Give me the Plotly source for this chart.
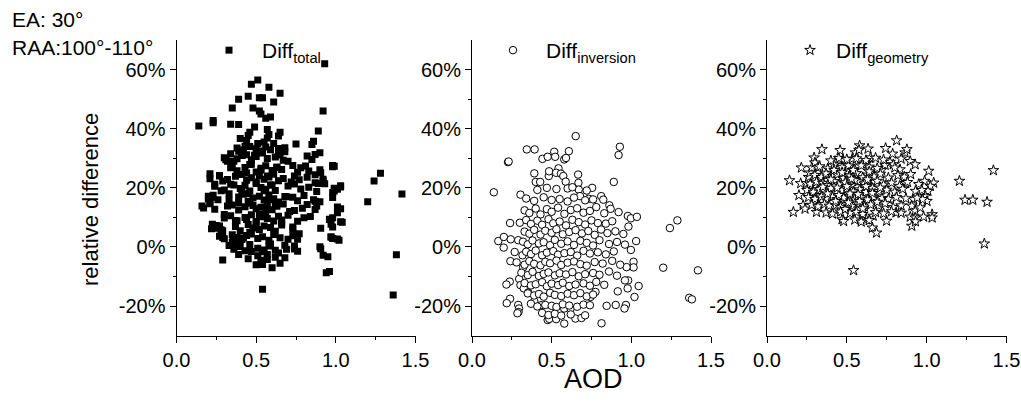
import plotly.graph_objects as go

# ---------------- data (AOD, relative difference in %) ----------------
total_points = [
    (0.93, 62), (0.92, 46), (0.47, 55), (0.51, 56.5), (0.58, 54), (0.65, 52), (0.45, 51), (0.39, 50),
    (0.61, 49), (0.35, 47), (0.48, 47), (0.52, 50.5), (0.54, 50.5), (0.52, 46), (0.53, 45), (0.56, 43.5),
    (0.59, 44), (0.49, 40.6), (0.39, 41.4), (0.34, 41.5), (0.23, 42.8), (0.23, 42), (0.14, 40.9), (0.40, 36.7),
    (0.45, 37.7), (0.46, 38.8), (0.57, 39.7), (0.58, 38), (0.57, 36.9), (0.65, 38.8), (0.64, 37.5), (0.75, 34.8),
    (0.89, 39.2), (0.86, 35.8), (0.85, 34.7), (0.90, 31.9), (0.68, 33.6), (0.64, 31.6), (0.43, 34.1),
    (0.98, 27.6), (0.99, 27.3), (0.905, 25.1), (0.92, 22.9), (0.89, 21.5), (0.87, 21.7), (1.03, 20.3), (1.01, 19.5),
    (0.98, 18.4), (0.99, 18.9), (0.87, 15.5), (0.88, 13.9), (1.03, 12.9), (1.01, 11.6), (0.98, 9.9), (0.96, 9.3),
    (0.97, 7.7), (1.04, 8.4), (0.905, 6.3), (0.97, 3.4), (0.98, 2.9), (1.02, 2.3), (0.905, -0.6), (0.92, -2.8),
    (0.95, -3.3), (0.94, -8.7), (0.96, -8.3), (1.2, 15.3), (1.24, 22.3), (1.28, 24.9), (1.415, 17.9), (1.38, -2.6),
    (1.36, -16.2),
    (0.54, -14.3), (0.29, -4.4), (0.39, -2.5), (0.54, -5.9), (0.6, -7), (0.65, -5.5), (0.57, -4.2), (0.68, -3.6),
    (0.69, -0.8), (0.74, 0.3), (0.76, 2.6), (0.73, 6.8),
    (0.16, 13.9), (0.21, 15), (0.2, 17.2), (0.22, 16.8), (0.21, 24.8), (0.24, 21.2), (0.27, 24), (0.29, 22.3),
    (0.225, 7.7), (0.24, 6.3), (0.27, 7.1), (0.29, 5.5), (0.29, 3.2), (0.35, 1.5), (0.38, 1.0), (0.355, 2.8),
    (0.32, 29), (0.31, 29.5), (0.34, 26.8), (0.36, 29), (0.39, 32.4), (0.41, 31),
    (0.38, 33.5), (0.42, 32.8), (0.46, 34), (0.5, 33.2), (0.53, 32.5), (0.56, 33.8), (0.59, 32.9), (0.64, 33.3),
    (0.68, 32.2),
    (0.3, 30.2), (0.34, 31.5), (0.38, 29.8), (0.41, 30.9), (0.44, 31.2), (0.47, 29.5), (0.5, 30.6), (0.54, 31.8),
    (0.57, 29.9), (0.62, 30.4), (0.65, 31.1), (0.67, 29.3), (0.82, 30.8), (0.85, 29.6), (0.87, 31.3),
    (0.35, 27.2), (0.38, 25.8), (0.43, 26.9), (0.46, 27.9), (0.5, 25.4), (0.53, 26.6), (0.56, 27.5), (0.6, 25.9),
    (0.63, 27), (0.66, 26.2), (0.73, 27.6), (0.76, 25.3), (0.78, 26.8), (0.81, 27.4), (0.83, 25.7), (0.9, 26.1),
    (0.98, 27.1),
    (0.21, 23.1), (0.27, 24.2), (0.32, 22.8), (0.37, 23.9), (0.41, 24.5), (0.44, 22.6), (0.47, 23.4), (0.52, 24.1),
    (0.55, 22.9), (0.58, 23.7), (0.61, 24.6), (0.64, 22.4), (0.67, 23.2), (0.74, 24), (0.77, 22.7), (0.82, 23.6),
    (0.87, 24.4), (0.92, 22.2),
    (0.24, 20.5), (0.3, 19.3), (0.34, 21.2), (0.4, 19.8), (0.43, 20.9), (0.46, 18.9), (0.5, 21.5), (0.53, 20.1),
    (0.56, 19.5), (0.59, 21), (0.62, 19.1), (0.7, 20.6), (0.74, 21.3), (0.78, 19.6), (0.83, 20.2), (0.88, 18.8),
    (0.93, 21.4), (0.99, 19.9), (1.03, 20.7),
    (0.2, 16.2), (0.23, 17.5), (0.33, 15.8), (0.39, 16.9), (0.42, 17.8), (0.45, 15.4), (0.48, 16.6), (0.52, 17.2),
    (0.55, 15.9), (0.58, 17.6), (0.61, 16.3), (0.64, 15.2), (0.68, 17.1), (0.73, 16.8), (0.76, 15.6), (0.8, 17.4),
    (0.86, 16), (0.9, 15.3), (0.98, 16.7),
    (0.17, 13.2), (0.21, 14.6), (0.24, 12.8), (0.32, 13.9), (0.35, 14.2), (0.39, 12.5), (0.43, 13.6), (0.46, 14.8),
    (0.5, 12.9), (0.53, 13.4), (0.57, 14.1), (0.6, 12.6), (0.63, 13.8), (0.67, 14.5), (0.74, 12.3), (0.79, 13.1),
    (0.82, 14.4), (0.87, 12.7), (1.01, 13.5),
    (0.3, 9.8), (0.34, 10.6), (0.38, 8.9), (0.44, 9.3), (0.47, 10.9), (0.5, 8.6), (0.54, 10.2), (0.57, 9.6),
    (0.61, 8.8), (0.64, 10.4), (0.66, 9.1), (0.7, 10.7), (0.76, 8.7), (0.8, 9.9), (0.84, 10.3), (0.96, 9.4),
    (1.03, 8.5),
    (0.22, 6.2), (0.25, 7.3), (0.28, 5.8), (0.37, 6.9), (0.4, 5.5), (0.45, 7.6), (0.48, 6.4), (0.52, 5.9),
    (0.55, 7.1), (0.59, 6.6), (0.62, 5.3), (0.66, 7.4), (0.73, 6), (0.98, 6.8),
    (0.27, 3.6), (0.3, 2.8), (0.35, 4.1), (0.38, 3.2), (0.41, 2.5), (0.44, 3.9), (0.47, 4.4), (0.51, 2.9),
    (0.54, 3.5), (0.58, 2.3), (0.61, 4.2), (0.65, 3.1), (0.7, 2.6), (0.73, 3.8), (0.77, 4.5), (0.97, 3.4),
    (1.01, 2.7),
    (0.33, 0.5), (0.36, -0.8), (0.4, 0.2), (0.43, -1.3), (0.46, 0.8), (0.51, -0.4), (0.54, -1.6), (0.58, 0.3),
    (0.62, -1.1), (0.68, 0.6), (0.74, -0.7), (0.76, -1.4), (0.9, 0.1),
    (0.45, 18), (0.5, 22), (0.55, 19), (0.48, 14), (0.52, 11), (0.58, 16), (0.44, 25), (0.6, 21), (0.47, 28),
    (0.53, 26), (0.56, 12), (0.5, 8), (0.46, 5), (0.62, 14), (0.41, 19), (0.43, 10), (0.57, 24), (0.63, 27),
    (0.49, 31), (0.55, 35.5), (0.51, 35), (0.61, 35), (0.44, 36), (0.7, 29), (0.72, 22), (0.69, 17), (0.71, 12),
    (0.66, 8), (0.39, 15), (0.36, 21), (0.33, 18), (0.3, 11), (0.28, 19), (0.26, 16), (0.37, 9), (0.42, 3),
    (0.59, 1), (0.64, -2), (0.47, -1.5), (0.51, -3), (0.55, -1), (0.57, -2.5), (0.62, -3.5), (0.45, -4),
    (0.5, -6), (0.53, -4.5),
]

inversion_points = [
    (0.137, 18.5), (0.226, 28.7), (0.23, 28.9), (0.304, 17.7), (0.239, 8.1), (0.344, 33), (0.393, 33),
    (0.391, 24.9), (0.40, 22), (0.428, 22), (0.442, 29.8), (0.475, 30.5), (0.516, 32.2), (0.522, 30.5),
    (0.579, 29.6), (0.59, 30.1), (0.608, 32.4), (0.651, 37.5), (0.543, 26.6), (0.482, 24), (0.484, 25.6),
    (0.528, 25.1), (0.558, 24.8), (0.573, 24), (0.588, 22.1), (0.666, 24.5), (0.668, 21.7), (0.67, 19.4),
    (0.754, 20), (0.678, 17.2), (0.733, 16.3), (0.811, 17.2), (0.824, 16), (0.862, 14.1), (0.89, 22),
    (0.928, 33.9), (0.92, 31.1), (0.978, 10.5), (0.997, 9.7), (1.035, 10.2), (0.982, 6.9), (1.03, 2),
    (0.997, -1), (1.014, -5), (1.014, -6.9), (0.97, -6.8), (1.046, -13.2), (1.02, -16.9), (0.915, -15),
    (0.98, -11.3), (0.96, -11.3), (0.977, -14), (0.902, -19.6), (0.966, -19.6), (0.957, -20.8), (0.845, -19.9),
    (0.813, -25.8), (1.242, 6.4), (1.289, 9), (1.2, -7), (1.363, -17.2), (1.38, -17.7), (1.418, -7.9),
    (0.165, 2), (0.2, 3.4), (0.199, -0.2), (0.243, 2.6), (0.29, 2.3), (0.241, -4.8), (0.317, -2.8),
    (0.321, -6.9), (0.268, -1.7), (0.237, -11.7), (0.216, -12.7), (0.296, -10.8), (0.304, -12.9),
    (0.239, -17.5), (0.218, -19), (0.29, -19.6), (0.295, -20.8), (0.292, -22), (0.285, -22.4), (0.325, -14),
    (0.353, -15.4), (0.391, -18.4), (0.433, -19.7), (0.475, -24.7), (0.485, -24.3), (0.528, -24.4),
    (0.579, -25.9), (0.554, -21.6), (0.579, -20.8), (0.619, -20.8), (0.649, -24.2), (0.687, -24), (0.71, -23.1),
    (0.744, -16.9), (0.775, -15.2),
    (0.33, 12.4), (0.36, 11.5), (0.4, 13), (0.43, 11), (0.47, 12.8), (0.5, 11.9), (0.54, 13.3), (0.58, 11.2),
    (0.62, 12.5), (0.66, 13.1), (0.7, 11.6), (0.74, 12.2), (0.78, 13.5), (0.83, 11.4), (0.87, 12.9), (0.92, 11.8),
    (0.3, 8.2), (0.34, 9.1), (0.37, 7.8), (0.41, 8.9), (0.44, 7.5), (0.48, 9.4), (0.51, 8), (0.55, 8.6),
    (0.59, 7.3), (0.63, 9.2), (0.67, 8.4), (0.71, 7.6), (0.75, 9), (0.79, 8.1), (0.84, 7.9), (0.88, 8.7),
    (0.33, 5.2), (0.36, 4.5), (0.39, 5.8), (0.43, 4.2), (0.46, 5.5), (0.5, 4.8), (0.53, 6), (0.57, 4.3),
    (0.61, 5.1), (0.65, 5.7), (0.69, 4.6), (0.73, 5.4), (0.77, 4.1), (0.81, 5.9), (0.85, 4.7), (0.9, 5.3),
    (0.95, 4.4),
    (0.32, 1.8), (0.35, 0.9), (0.38, 2.2), (0.42, 1.2), (0.45, 1.6), (0.49, 0.6), (0.52, 2.4), (0.56, 1.1),
    (0.6, 1.9), (0.64, 0.7), (0.68, 2.1), (0.72, 1.4), (0.76, 0.5), (0.8, 2.3), (0.86, 1), (0.91, 1.7),
    (0.96, 0.8),
    (0.34, -1.6), (0.37, -2.4), (0.4, -1.2), (0.44, -2.8), (0.47, -1.9), (0.51, -1.4), (0.54, -2.6),
    (0.58, -2.1), (0.62, -1.7), (0.66, -2.9), (0.7, -1.3), (0.74, -2.2), (0.79, -1.8), (0.84, -2.5), (0.89, -1.5),
    (0.28, -5.2), (0.33, -6), (0.36, -4.8), (0.39, -5.7), (0.43, -6.2), (0.46, -5), (0.49, -5.5), (0.53, -4.6),
    (0.56, -6.1), (0.6, -5.3), (0.64, -4.9), (0.68, -5.8), (0.72, -6.3), (0.77, -5.1), (0.82, -5.6),
    (0.88, -4.7), (0.93, -6),
    (0.31, -8.7), (0.35, -9.5), (0.38, -8.4), (0.42, -9.8), (0.45, -9.1), (0.48, -8.6), (0.52, -9.6),
    (0.55, -8.9), (0.59, -9.3), (0.63, -8.5), (0.67, -9.9), (0.71, -9.2), (0.76, -8.8), (0.8, -9.4),
    (0.86, -8.3), (0.91, -9.7),
    (0.33, -12.2), (0.37, -13), (0.4, -12.6), (0.44, -11.9), (0.47, -13.3), (0.5, -12.4), (0.54, -12.9),
    (0.57, -12.1), (0.61, -13.2), (0.65, -12.7), (0.7, -12.3), (0.74, -13.1), (0.78, -11.8), (0.83, -12.8),
    (0.35, -15.7), (0.39, -16.4), (0.42, -15.9), (0.45, -16.8), (0.49, -15.5), (0.52, -16.2), (0.56, -16.6),
    (0.6, -15.8), (0.64, -16.3), (0.68, -15.6), (0.72, -16.7), (0.76, -16.1),
    (0.37, -19.2), (0.41, -20.1), (0.46, -19.6), (0.5, -19.9), (0.53, -20.3), (0.57, -19.4), (0.61, -19.8),
    (0.66, -20.2), (0.7, -19.5), (0.74, -19.7),
    (0.44, -22.3), (0.48, -23), (0.52, -22.6), (0.56, -23.2), (0.62, -22.8),
    (0.34, 16.4), (0.39, 15.6), (0.45, 16.8), (0.5, 15.9), (0.55, 16.2), (0.6, 15.4), (0.64, 16.7), (0.71, 15.8),
    (0.76, 16.1),
    (0.41, 19.3), (0.47, 20), (0.53, 19.6), (0.6, 19.8), (0.63, 20.2), (0.72, 19.1),
]

geometry_points = [
    (0.141, 22.5), (0.165, 11.8), (0.2, 17.5), (0.215, 26.8), (0.211, 21.5), (0.226, 14.1), (0.238, 12.9),
    (0.247, 21.5), (0.26, 23.6), (0.268, 25.1), (0.281, 26.8), (0.295, 30.2), (0.3, 28.5), (0.319, 26.8),
    (0.344, 33), (0.306, 17.5), (0.31, 11.8), (0.3, 15), (0.331, 21.7), (0.38, 24.5), (0.432, 12.2),
    (0.427, 29), (0.458, 32.7), (0.475, 29.6), (0.47, 9.3), (0.496, 25.7), (0.542, -7.9), (0.534, 29.8),
    (0.555, 31.9), (0.58, 34.3), (0.576, 32.8), (0.633, 33.2), (0.648, 30.2), (0.622, 28.3), (0.622, 9.3),
    (0.66, 6.5), (0.686, 4.8), (0.717, 26), (0.743, 33.4), (0.77, 28.7), (0.787, 31.5), (0.812, 36),
    (0.791, 27.9), (0.833, 26.2), (0.865, 31.9), (0.876, 33), (0.897, 29), (0.928, 27.9), (1.013, 25.7),
    (0.987, 22.3), (1.044, 21.7), (1.023, 20.6), (1.008, 18.9), (0.992, 17.2), (1.002, 15.5), (0.975, 16.1),
    (0.918, 16.1), (0.907, 13.9), (0.928, 12.2), (0.96, 13.3), (0.897, 10.2), (0.928, 9.9), (0.907, 7.1),
    (0.93, 8.6), (0.981, 10.2), (1.034, 11), (1.034, 9.9), (0.808, 11.6), (0.749, 8.8), (0.665, 10.5),
    (1.205, 22.3), (1.24, 15.9), (1.289, 15.9), (1.378, 15.2), (1.361, 1.1), (1.418, 25.9), (0.869, 21.5),
    (0.33, 27.2), (0.38, 26.5), (0.42, 27.8), (0.47, 26.9), (0.51, 27.5), (0.55, 26.2), (0.6, 28), (0.64, 27.1),
    (0.69, 26.6), (0.74, 27.7), (0.8, 26.8),
    (0.3, 24.3), (0.34, 23.6), (0.37, 24.8), (0.41, 23.9), (0.44, 24.5), (0.48, 23.3), (0.52, 24.1), (0.56, 24.9),
    (0.6, 23.5), (0.63, 24.4), (0.67, 23.8), (0.71, 24.7), (0.76, 23.4), (0.82, 24.2), (0.86, 23.7), (0.9, 24.6),
    (0.27, 21.3), (0.31, 22), (0.35, 21.6), (0.38, 20.9), (0.42, 22.2), (0.45, 21.1), (0.49, 21.8), (0.53, 20.8),
    (0.57, 22.1), (0.61, 21.4), (0.65, 20.7), (0.69, 22.3), (0.73, 21), (0.78, 21.7), (0.83, 20.6), (0.88, 21.9),
    (0.95, 21.2),
    (0.25, 19.2), (0.29, 18.6), (0.33, 19.5), (0.36, 18.9), (0.4, 19.8), (0.43, 18.4), (0.47, 19.1), (0.5, 19.7),
    (0.54, 18.7), (0.58, 19.4), (0.62, 18.5), (0.66, 19.9), (0.7, 18.8), (0.75, 19.3), (0.8, 18.6), (0.85, 19.6),
    (0.93, 18.9), (0.97, 19.2),
    (0.26, 16.8), (0.3, 16.2), (0.34, 17), (0.37, 16.4), (0.41, 16.9), (0.44, 16.1), (0.48, 16.6), (0.52, 17.1),
    (0.55, 16.3), (0.59, 16.7), (0.63, 16), (0.67, 16.9), (0.72, 16.5), (0.76, 16.2), (0.81, 16.8), (0.87, 16.4),
    (0.94, 16.6),
    (0.28, 14.2), (0.32, 13.7), (0.36, 14.5), (0.39, 13.9), (0.43, 14.1), (0.46, 13.5), (0.5, 14.4), (0.53, 13.8),
    (0.57, 14.6), (0.61, 13.6), (0.65, 14.3), (0.7, 13.9), (0.74, 14.7), (0.79, 13.4), (0.84, 14),
    (0.37, 11.6), (0.41, 11.2), (0.46, 11.9), (0.52, 11.4), (0.56, 11.8), (0.6, 11.1), (0.68, 11.7), (0.73, 11.3),
    (0.78, 12), (0.84, 11.5),
    (0.4, 29.2), (0.45, 30), (0.5, 29.6), (0.56, 29.9), (0.62, 29.3), (0.68, 30.1), (0.73, 29.5), (0.84, 29.8),
    (0.48, 8.7), (0.55, 9.2), (0.59, 8.5), (0.64, 9),
    (0.5, 20.5), (0.52, 18), (0.55, 22.5), (0.45, 17.5), (0.58, 15.5), (0.62, 20.5), (0.4, 22.8), (0.47, 25.2),
    (0.53, 23), (0.57, 17.8), (0.6, 13), (0.63, 22.8), (0.43, 15.5), (0.38, 18), (0.66, 18.2), (0.69, 15.2),
    (0.71, 20), (0.35, 20.3), (0.49, 12.8), (0.54, 26), (0.42, 26), (0.59, 27.5), (0.64, 25.5), (0.51, 15),
    (0.44, 20),
]

series_names = ["Diff<sub>total</sub>", "Diff<sub>inversion</sub>", "Diff<sub>geometry</sub>"]
x_tick_vals = [0.0, 0.5, 1.0, 1.5]
x_tick_text = ["0.0", "0.5", "1.0", "1.5"]
x_minor_vals = [0.25, 0.75, 1.25]
y_tick_vals = [-20, 0, 20, 40, 60]
y_tick_text = ["-20%", "0%", "20%", "40%", "60%"]
y_minor_vals = [-10, 10, 30, 50]
x_range = [0, 1.5]
y_range = [-30, 70]
x_title = "AOD"
y_title = "relative difference"
note_lines = ["EA: 30\u00b0", "RAA:100\u00b0-110\u00b0"]

# ---------------- layout helpers (pixel geometry) ----------------
W, H = 1021, 401
FONT = "Arial, Liberation Sans, sans-serif"


def fx(p):
    return p / W


def fy(p):
    return 1 - p / H


x_domains = [(176.5, 415.5), (472, 711), (767, 1006.5)]
y_dom = [fy(335.7), fy(40)]
# legend placement: (left edge px, symbol width px)
legend_spots = [(196, 56), (480, 56), (784, 42)]

fig = go.Figure()

markers = [
    dict(symbol="square", size=7, color="black", line=dict(width=0)),
    dict(symbol="circle", size=7.5, color="white", line=dict(width=1, color="black")),
    dict(symbol="star", size=8, color="white", line=dict(width=1, color="black")),
]
datasets = [total_points, inversion_points, geometry_points]

for i, (pts, mk, name) in enumerate(zip(datasets, markers, series_names)):
    sfx = "" if i == 0 else str(i + 1)
    fig.add_trace(go.Scatter(
        x=[p[0] for p in pts], y=[p[1] for p in pts], mode="markers",
        marker=mk, name=name, xaxis="x" + sfx, yaxis="y" + sfx,
        legend="legend" + sfx, showlegend=True,
    ))

layout = dict(
    width=W, height=H, margin=dict(l=0, r=0, t=0, b=0, autoexpand=False),
    plot_bgcolor="white", paper_bgcolor="white",
    font=dict(family=FONT, color="black", size=20),
)

for i, (x0, x1) in enumerate(x_domains):
    sfx = "" if i == 0 else str(i + 1)
    layout["xaxis" + sfx] = dict(
        domain=[fx(x0), fx(x1)], anchor="y" + sfx, range=x_range,
        tickmode="array", tickvals=x_tick_vals, ticktext=x_tick_text,
        ticks="outside", ticklen=6, tickwidth=1, tickcolor="black",
        showline=True, linecolor="black", linewidth=1, showgrid=False, zeroline=False,
        minor=dict(tickmode="array", tickvals=x_minor_vals, ticks="outside", ticklen=3,
                   tickwidth=1, tickcolor="black", showgrid=False),
        tickfont=dict(family=FONT, size=20, color="black"), fixedrange=True,
    )
    layout["yaxis" + sfx] = dict(
        domain=y_dom, anchor="x" + sfx, range=y_range,
        tickmode="array", tickvals=y_tick_vals, ticktext=y_tick_text,
        ticks="outside", ticklen=6, tickwidth=1, tickcolor="black",
        showline=True, linecolor="black", linewidth=1, showgrid=False, zeroline=False,
        minor=dict(tickmode="array", tickvals=y_minor_vals, ticks="outside", ticklen=3,
                   tickwidth=1, tickcolor="black", showgrid=False),
        tickfont=dict(family=FONT, size=20, color="black"), fixedrange=True,
    )
    lx, lw = legend_spots[i]
    layout["legend" + sfx] = dict(
        x=fx(lx), y=fy(30), xanchor="left", yanchor="top",
        bgcolor="rgba(0,0,0,0)", borderwidth=0, itemwidth=lw,
        font=dict(family=FONT, size=21, color="black"),
        tracegroupgap=0,
    )

fig.update_layout(**layout)

fig.add_annotation(x=fx(593), y=fy(379), xref="paper", yref="paper", text=x_title,
                   showarrow=False, font=dict(family=FONT, size=27, color="black"),
                   xanchor="center", yanchor="middle")
fig.add_annotation(x=fx(90), y=fy(200), xref="paper", yref="paper", text=y_title,
                   showarrow=False, textangle=-90, font=dict(family=FONT, size=22, color="black"),
                   xanchor="center", yanchor="middle")
fig.add_annotation(x=fx(10), y=fy(19), xref="paper", yref="paper", text=note_lines[0],
                   showarrow=False, font=dict(family=FONT, size=21, color="black"),
                   xanchor="left", yanchor="middle")
fig.add_annotation(x=fx(10), y=fy(47), xref="paper", yref="paper", text=note_lines[1],
                   showarrow=False, font=dict(family=FONT, size=21, color="black"),
                   xanchor="left", yanchor="middle")

fig.write_html("out.html")
